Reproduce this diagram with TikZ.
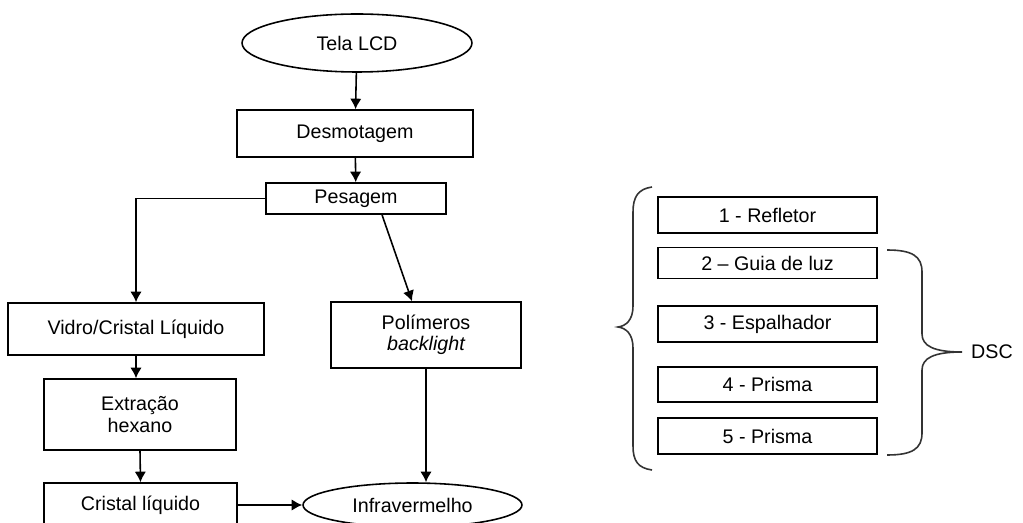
\documentclass[tikz,border=0pt]{standalone}
\usepackage{fontspec}
\setmainfont{Liberation Sans}
\usetikzlibrary{shapes.geometric,arrows.meta}

\begin{document}
\begin{tikzpicture}[>={Latex[length=6pt,width=6.5pt]},x=0.02cm,y=-0.02cm,
  box/.style={draw,line width=0.9pt,rectangle,inner sep=0pt,align=center,
    font=\fontsize{11.2}{12}\selectfont},
  oval/.style={draw,line width=0.9pt,ellipse,inner sep=0pt,
    font=\fontsize{11.2}{12}\selectfont},
  link/.style={line width=0.9pt,->},
  brace/.style={draw,line width=0.9pt,black!80},
  ]

  \clip (0,0) rectangle (1023,523);
  \fill[white] (0,0) rectangle (1023,523);

  % main flow
  \node[oval,minimum width=4.6cm,minimum height=1.16cm] (tela) at (357,43) {Tela LCD};
  \node[box,minimum width=4.72cm,minimum height=0.94cm] (desm) at (355,133.5) {Desmotagem};
  \node[box,minimum width=3.6cm,minimum height=0.62cm] (pes) at (356,198.5) {Pesagem};
  \node[box,minimum width=5.12cm,minimum height=1.04cm] (vid) at (136,329) {Vidro/Cristal Líquido};
  \node[box,minimum width=3.8cm,minimum height=1.32cm] (pol) at (426,335) {Polímeros\\ \itshape backlight};
  \node[box,minimum width=3.84cm,minimum height=1.42cm] (ext) at (140,414.5) {Extração\\ hexano};
  \node[box,minimum width=3.86cm,minimum height=0.88cm] (cri) at (140.5,505) {Cristal líquido};
  \node[oval,minimum width=4.38cm,minimum height=0.88cm] (inf) at (412.5,505) {Infravermelho};

  \draw[link] (tela) -- (desm);
  \draw[link] (desm) -- (pes);
  \draw[link] (pes.west) -| (vid.north);
  \draw[link] ([xshift=0.52cm]pes.south) -- ([xshift=-0.28cm]pol.north);
  \draw[link] (vid.south) -- (vid.south |- ext.north);
  \draw[link] (ext.south) -- (cri.north);
  \draw[link] (cri.east) -- (inf.west);
  \draw[link] (pol.south) -- (pol.south |- inf.north);

  % backlight layers
  \node[box,minimum width=4.38cm,minimum height=0.72cm] (l1) at (767.5,215) {1 - Refletor};
  \node[box,minimum width=4.38cm,minimum height=0.62cm] (l2) at (767.5,263) {2 – Guia de luz};
  \node[box,minimum width=4.38cm,minimum height=0.72cm] (l3) at (767.5,324) {3 - Espalhador};
  \node[box,minimum width=4.38cm,minimum height=0.70cm] (l4) at (767.5,384.5) {4 - Prisma};
  \node[box,minimum width=4.38cm,minimum height=0.72cm] (l5) at (767.5,436) {5 - Prisma};

  \draw[brace] (652,187) .. controls (638,189) and (633,197) .. (633,212)
    -- (633,306) .. controls (633,320) and (626,326) .. (618,327)
    .. controls (626,328) and (633,334) .. (633,348)
    -- (633,446) .. controls (633,461) and (638,468) .. (652,470);
  \draw[brace] (887,250) .. controls (912,250) and (922,256) .. (922,272)
    -- (922,334) .. controls (922,346) and (934,352) .. (962,352)
    .. controls (934,352) and (922,358) .. (922,370)
    -- (922,433) .. controls (922,449) and (912,455) .. (887,455);
  \node[font=\fontsize{11.2}{12}\selectfont] (dsc) at (992,352) {DSC};

\end{tikzpicture}
\end{document}
